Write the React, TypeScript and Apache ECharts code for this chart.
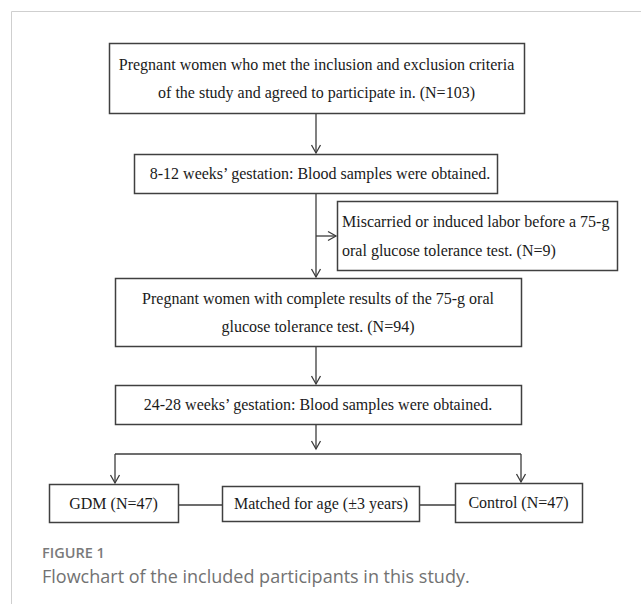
import React, { useEffect, useRef } from "react";
import * as echarts from "echarts";

// ---- content (data) ----
const stepTexts: string[][] = [
  ["Pregnant women who met the inclusion and exclusion criteria", "of the study and agreed to participate in. (N=103)"],
  ["8-12 weeks’ gestation: Blood samples were obtained."],
  ["Pregnant women with complete results of the 75-g oral", "glucose tolerance test. (N=94)"],
  ["24-28 weeks’ gestation: Blood samples were obtained."],
];
const exclusionText: string[] = ["Miscarried or induced labor before a 75-g", "oral glucose tolerance test. (N=9)"];
const groupTexts: string[] = ["GDM (N=47)", "Matched for age (±3 years)", "Control (N=47)"];
const captionTitle = "FIGURE 1";
const captionText = "Flowchart of the included participants in this study.";

// ---- layout ----
const stepBoxes = [
  { x: 109, y: 43, w: 415, h: 70, cx: 316.5 },
  { x: 134, y: 154, w: 363, h: 39, cx: 320 },
  { x: 115, y: 278, w: 406, h: 68, cx: 318 },
  { x: 115, y: 385, w: 406, h: 39, cx: 318 },
];
const exclusionBox = { x: 337, y: 201, w: 280, h: 69, tx: 342 };
const groupBoxes = [
  { x: 49, y: 484, w: 129, h: 38, cx: 113.5 },
  { x: 222, y: 486, w: 197, h: 35, cx: 321 },
  { x: 455, y: 483, w: 127, h: 39, cx: 518.5 },
];

const LINE = "#3c3c3c";
const SERIF = '"Liberation Serif", "Times New Roman", serif';

function downArrow(x: number, y1: number, y2: number): any[] {
  return [
    { type: "line", shape: { x1: x, y1, x2: x, y2 }, style: { stroke: LINE, lineWidth: 1.3 } },
    {
      type: "polyline",
      shape: { points: [[x - 4.5, y2 - 8], [x, y2], [x + 4.5, y2 - 8]] },
      style: { stroke: LINE, lineWidth: 1.3, fill: "none" },
    },
  ];
}
function rightArrow(y: number, x1: number, x2: number): any[] {
  return [
    { type: "line", shape: { x1, y1: y, x2, y2: y }, style: { stroke: LINE, lineWidth: 1.3 } },
    {
      type: "polyline",
      shape: { points: [[x2 - 8, y - 4.5], [x2, y], [x2 - 8, y + 4.5]] },
      style: { stroke: LINE, lineWidth: 1.3, fill: "none" },
    },
  ];
}
function hLine(y: number, x1: number, x2: number): any {
  return { type: "line", shape: { x1, y1: y, x2, y2: y }, style: { stroke: LINE, lineWidth: 1.3 } };
}
function box(b: { x: number; y: number; w: number; h: number }): any {
  return {
    type: "rect",
    shape: { x: b.x + 0.5, y: b.y + 0.5, width: b.w, height: b.h },
    style: { stroke: "#404040", lineWidth: 1.5, fill: "#fff" },
  };
}
function text(t: string, x: number, y: number, align: string, size = 16): any {
  return {
    type: "text",
    x,
    y,
    style: {
      text: t,
      fontSize: size,
      fontFamily: SERIF,
      fill: "#1a1a1a",
      textAlign: align,
      textVerticalAlign: "middle",
    },
  };
}

export default function App() {
  const ref = useRef<HTMLDivElement>(null);
  useEffect(() => {
    document.body.style.margin = "0";
    if (!ref.current) return;
    const chart = echarts.init(ref.current, null, { renderer: "svg" });
    const els: any[] = [];

    // outer frame
    els.push({
      type: "polyline",
      shape: { points: [[11.5, 604], [11.5, 11.5], [641, 11.5]] },
      style: { stroke: "#cfcfcf", lineWidth: 1, fill: "none" },
    });

    // connectors
    els.push(...downArrow(316, 113, 153));
    els.push(...downArrow(316, 193, 277));
    els.push(...rightArrow(236, 316, 336));
    els.push(...downArrow(316, 346, 384));
    els.push(...downArrow(316, 424, 449));
    els.push(hLine(454, 115, 521));
    els.push(...downArrow(115, 454, 483));
    els.push(...downArrow(521, 454, 482));
    els.push(hLine(505, 178, 222));
    els.push(hLine(505, 419, 455));

    // step boxes
    stepBoxes.forEach((b, i) => {
      els.push(box(b));
      const lines = stepTexts[i];
      const gap = 28;
      const mid = b.y + b.h / 2;
      lines.forEach((ln, j) => {
        const y = mid + (j - (lines.length - 1) / 2) * gap;
        els.push(text(ln, b.cx, y, "center"));
      });
    });

    // exclusion box
    els.push(box(exclusionBox));
    exclusionText.forEach((ln, j) => {
      const mid = exclusionBox.y + exclusionBox.h / 2;
      els.push(text(ln, exclusionBox.tx, mid + (j - 0.5) * 29, "left"));
    });

    // group boxes
    groupBoxes.forEach((b, i) => {
      els.push(box(b));
      els.push(text(groupTexts[i], b.cx, b.y + b.h / 2, "center"));
    });

    // caption
    els.push({
      type: "text",
      x: 42,
      y: 552,
      style: {
        text: captionTitle,
        fontSize: 14.5,
        fontWeight: 600,
        fontFamily: '"Open Sans", sans-serif',
        fill: "#7a7a7a",
        textAlign: "left",
        textVerticalAlign: "middle",
      },
    });
    els.push({
      type: "text",
      x: 42,
      y: 576,
      style: {
        text: captionText,
        fontSize: 18,
        fontFamily: '"Open Sans", sans-serif',
        fill: "#727272",
        textAlign: "left",
        textVerticalAlign: "middle",
      },
    });

    chart.setOption({
      animation: false,
      backgroundColor: "#ffffff",
      graphic: { elements: els },
    });
    return () => chart.dispose();
  }, []);
  return <div ref={ref} style={{ width: 641, height: 604 }} />;
}
